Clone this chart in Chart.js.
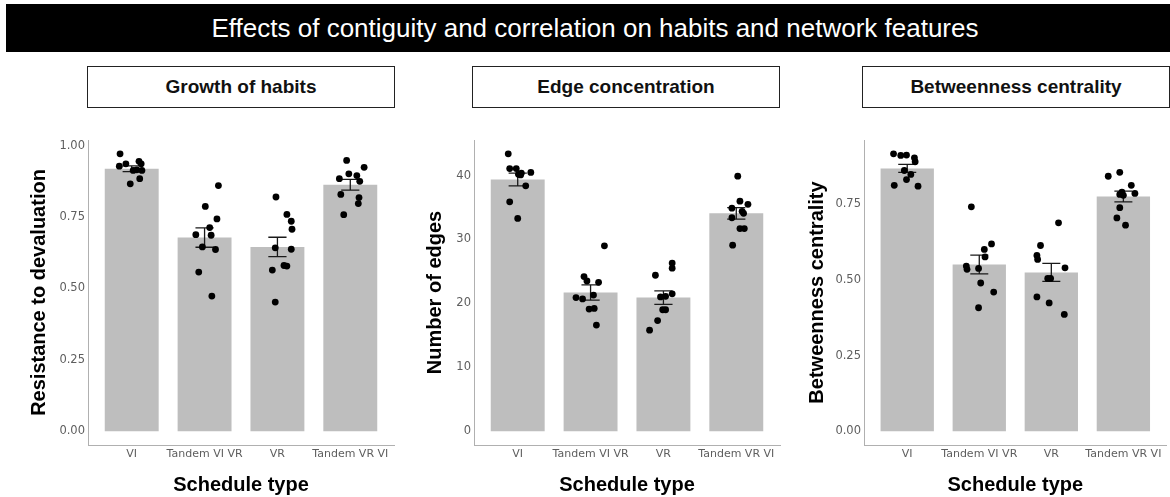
<!DOCTYPE html>
<html>
<head>
<meta charset="utf-8">
<script src="https://cdn.jsdelivr.net/npm/chart.js@4.4.1/dist/chart.umd.min.js"></script>
<style>
  html, body { margin: 0; padding: 0; background: #fff; }
  body { width: 1170px; height: 497px; position: relative; overflow: hidden;
         font-family: "Liberation Sans", Arial, sans-serif; }
  #banner { position: absolute; left: 6px; top: 4px; width: 1150px; height: 48px;
            padding-left: 14px; background: #000; color: #fff; font-size: 26px;
            line-height: 48px; text-align: center; white-space: nowrap; }
  .strip { position: absolute; top: 66px; height: 40px; width: 306px;
           border: 1.5px solid #222; background: #fff; color: #111;
           font-weight: bold; font-size: 19px; line-height: 40px; text-align: center; }
  canvas { position: absolute; top: 120px; }
</style>
</head>
<body>
<div id="banner">Effects of contiguity and correlation on habits and network features</div>
<div class="strip" style="left:87px">Growth of habits</div>
<div class="strip" style="left:472px">Edge concentration</div>
<div class="strip" style="left:862px">Betweenness centrality</div>

<canvas id="habits" width="400" height="377" style="left:0px"></canvas>
<canvas id="edges" width="400" height="377" style="left:390px"></canvas>
<canvas id="betweenness" width="390" height="377" style="left:780px"></canvas>

<script>
// Schedule types on the x axis
const categories = ["VI", "Tandem VI VR", "VR", "Tandem VR VI"];

// Growth of habits: resistance to devaluation
const habitMeans = [0.919, 0.678, 0.645, 0.863];
const habitSE = [0.010, 0.034, 0.034, 0.019];
const habitVI = [0.971, 0.928, 0.936, 0.945, 0.936, 0.913, 0.913, 0.884, 0.866, 0.915];
const habitTandemVIVR = [0.860, 0.787, 0.743, 0.713, 0.688, 0.686, 0.645, 0.636, 0.557, 0.473];
const habitVR = [0.820, 0.759, 0.735, 0.707, 0.642, 0.637, 0.580, 0.578, 0.564, 0.452];
const habitTandemVRVI = [0.948, 0.924, 0.901, 0.895, 0.884, 0.875, 0.829, 0.818, 0.797, 0.758];
const habitTicks = [0, 0.25, 0.5, 0.75, 1];

// Edge concentration: number of edges
const edgeMeans = [39.4, 21.7, 20.9, 34.1];
const edgeSE = [1.0, 1.2, 1.05, 0.9];
const edgeVI = [43.4, 41.1, 41.1, 40.2, 40.1, 40.5, 38.4, 35.9, 33.3, 40.4];
const edgeTandemVIVR = [29.0, 24.2, 23.5, 23.3, 21.3, 20.9, 20.7, 19.1, 19.2, 16.6];
const edgeVR = [26.3, 25.5, 24.4, 21.5, 21.1, 21.0, 19.0, 19.0, 17.3, 15.8];
const edgeTandemVRVI = [39.9, 36.0, 35.5, 34.9, 34.4, 34.1, 33.4, 31.7, 31.7, 29.1];
const edgeTicks = [0, 10, 20, 30, 40];

// Betweenness centrality
const btwMeans = [0.869, 0.551, 0.525, 0.776];
const btwSE = [0.013, 0.031, 0.030, 0.018];
const btwVI = [0.917, 0.912, 0.913, 0.904, 0.891, 0.862, 0.849, 0.832, 0.813, 0.810];
const btwTandemVIVR = [0.742, 0.619, 0.601, 0.576, 0.546, 0.535, 0.538, 0.490, 0.460, 0.408];
const btwVR = [0.689, 0.614, 0.581, 0.568, 0.540, 0.505, 0.505, 0.444, 0.424, 0.386];
const btwTandemVRVI = [0.856, 0.843, 0.813, 0.786, 0.783, 0.790, 0.739, 0.705, 0.681, 0.780];
const btwTicks = [0, 0.25, 0.5, 0.75];

// Horizontal jitter of the individual dots (in category units)
const habitJitter = [
  [-0.16, -0.17, -0.08, 0.10, 0.13, 0.02, 0.14, 0.11, -0.02, 0.07],
  [0.19, 0.01, 0.17, 0.07, -0.12, 0.09, -0.03, 0.15, -0.08, 0.10],
  [-0.02, 0.13, 0.19, 0.20, -0.03, 0.19, 0.09, 0.13, -0.07, -0.03],
  [-0.05, 0.19, -0.02, 0.09, -0.15, 0.13, -0.13, 0.12, 0.11, -0.09]
];
const edgeJitter = [
  [-0.13, -0.11, -0.02, 0.01, 0.04, 0.18, 0.11, -0.11, 0.00, 0.05],
  [0.19, -0.09, -0.05, 0.11, 0.04, -0.20, -0.11, -0.02, 0.05, 0.08],
  [0.12, 0.12, -0.11, 0.12, 0.03, -0.04, -0.01, 0.03, -0.08, -0.19],
  [0.02, 0.05, 0.16, -0.06, 0.08, 0.10, -0.06, 0.05, 0.11, -0.05]
];
const btwJitter = [
  [-0.19, -0.09, -0.01, 0.10, 0.11, -0.04, 0.05, -0.01, -0.18, 0.15],
  [-0.11, 0.17, 0.07, 0.08, -0.18, -0.17, -0.01, 0.02, 0.20, -0.01],
  [0.10, -0.15, -0.20, -0.19, 0.19, -0.05, -0.01, -0.20, -0.03, 0.18],
  [-0.05, -0.21, 0.11, 0.16, -0.05, -0.02, -0.05, -0.09, 0.03, 0.00]
];

// Mean ± SE whiskers, drawn right after the bars so the dots sit on top
const errorBarPlugin = {
  id: 'errorBars',
  afterDatasetDraw(chart, args, opts) {
    if (args.index !== 0) return;
    const { ctx } = chart;
    const x = chart.scales.x, y = chart.scales.y;
    ctx.save();
    ctx.strokeStyle = '#1a1a1a';
    ctx.lineWidth = 1.3;
    opts.means.forEach((m, i) => {
      const cx = x.getPixelForValue(i + 1);
      const half = x.getPixelForValue(i + 1 + opts.cap / 2) - cx;
      const lo = y.getPixelForValue(m - opts.se[i]);
      const hi = y.getPixelForValue(m + opts.se[i]);
      ctx.beginPath();
      ctx.moveTo(cx, lo); ctx.lineTo(cx, hi);
      ctx.moveTo(cx - half, lo); ctx.lineTo(cx + half, lo);
      ctx.moveTo(cx - half, hi); ctx.lineTo(cx + half, hi);
      ctx.stroke();
    });
    ctx.restore();
  }
};

const xTickFont = { family: 'DejaVu Sans', size: 11 };
const yTickFont = { family: 'DejaVu Sans', size: 11.5 };
const tickColor = '#5e5e5e';
const titleFont = { family: 'Liberation Sans', size: 20, weight: 'bold' };
const axisBorder = { display: true, color: '#b0b0b0', width: 1 };

function makePanel(id, cfg) {
  const points = [];
  cfg.groups.forEach((vals, g) => {
    vals.forEach((v, k) => points.push({ x: g + 1 + cfg.jitter[g][k], y: v }));
  });
  const dataMax = Math.max(...points.map(p => p.y), ...cfg.means.map((m, i) => m + cfg.se[i]));
  const pad = 0.05 * dataMax;

  new Chart(document.getElementById(id), {
    type: 'bar',
    data: {
      datasets: [
        {
          type: 'bar',
          data: cfg.means.map((m, i) => ({ x: i + 1, y: m })),
          backgroundColor: '#bebebe',
          borderWidth: 0,
          barPercentage: 0.74,
          categoryPercentage: 1,
          order: 2
        },
        {
          type: 'scatter',
          data: points,
          backgroundColor: '#000',
          borderColor: '#000',
          borderWidth: 0,
          pointRadius: 3.4,
          pointHoverRadius: 3.4,
          order: 1
        }
      ]
    },
    options: {
      responsive: false,
      animation: false,
      devicePixelRatio: 1,
      layout: { padding: { top: 20, right: cfg.padRight, bottom: 0, left: 0 } },
      plugins: {
        legend: { display: false },
        tooltip: { enabled: false },
        errorBars: { means: cfg.means, se: cfg.se, cap: 0.25 }
      },
      scales: {
        x: {
          type: 'linear',
          min: 0.4,
          max: 4.6,
          offset: false,
          grid: { display: false, drawTicks: false },
          border: axisBorder,
          afterBuildTicks: ax => { ax.ticks = categories.map((c, i) => ({ value: i + 1 })); },
          afterFit: ax => { ax.height = 52; },
          ticks: {
            callback: v => categories[v - 1] ?? '',
            font: xTickFont,
            color: tickColor,
            padding: 3,
            maxRotation: 0,
            autoSkip: false
          },
          title: {
            display: true,
            text: 'Schedule type',
            font: titleFont,
            color: '#000',
            padding: { top: 0, bottom: 0 }
          }
        },
        y: {
          type: 'linear',
          min: -pad,
          max: dataMax + pad,
          grid: { display: false, drawTicks: false },
          border: axisBorder,
          afterBuildTicks: ax => { ax.ticks = cfg.ticks.map(v => ({ value: v })); },
          afterFit: ax => { ax.width = cfg.yWidth; },
          ticks: {
            callback: v => cfg.fmt(v),
            font: yTickFont,
            color: tickColor,
            padding: 3
          },
          title: {
            display: true,
            text: cfg.yTitle,
            font: titleFont,
            color: '#000',
            padding: { top: cfg.titlePad, bottom: 0 }
          }
        }
      }
    },
    plugins: [errorBarPlugin]
  });
}

makePanel('habits', {
  groups: [habitVI, habitTandemVIVR, habitVR, habitTandemVRVI],
  jitter: habitJitter,
  means: habitMeans,
  se: habitSE,
  ticks: habitTicks,
  fmt: v => v.toFixed(2),
  yTitle: 'Resistance to devaluation',
  yWidth: 88,
  titlePad: 27,
  padRight: 6
});

makePanel('edges', {
  groups: [edgeVI, edgeTandemVIVR, edgeVR, edgeTandemVRVI],
  jitter: edgeJitter,
  means: edgeMeans,
  se: edgeSE,
  ticks: edgeTicks,
  fmt: v => String(v),
  yTitle: 'Number of edges',
  yWidth: 84,
  titlePad: 33,
  padRight: 10
});

makePanel('betweenness', {
  groups: [btwVI, btwTandemVIVR, btwVR, btwTandemVRVI],
  jitter: btwJitter,
  means: btwMeans,
  se: btwSE,
  ticks: btwTicks,
  fmt: v => v.toFixed(2),
  yTitle: 'Betweenness centrality',
  yWidth: 84,
  titlePad: 25,
  padRight: 0
});
</script>
</body>
</html>
